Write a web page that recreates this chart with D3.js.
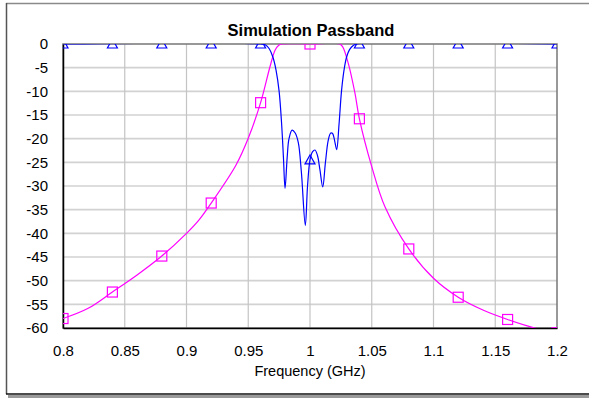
<!DOCTYPE html>
<html>
<head>
<meta charset="utf-8">
<script src="https://cdn.jsdelivr.net/npm/d3@7"></script>
<style>
  body { margin: 0; background: #fff; }
  text { font-family: Arial, "Liberation Sans", sans-serif; }
</style>
</head>
<body>
<div id="chart"></div>
<script>
// S21 (magenta) and S11 (blue) in dB vs frequency in GHz
var s21Freq = [0.8, 0.82, 0.84, 0.86, 0.88, 0.9, 0.91, 0.92, 0.94, 0.95, 0.96, 0.9676, 0.9717, 0.9745, 0.977,
               1.0, 1.024, 1.0265, 1.031, 1.0364, 1.04, 1.05, 1.0607, 1.08, 1.1, 1.12, 1.14, 1.16, 1.182, 1.2]
var s21dB   = [-58, -55.9, -52.4, -48.8, -44.8, -40, -37.2, -33.6, -25.6, -19.9, -12.4, -4.8, -1.3, -0.3, 0,
               0, 0, -0.6, -4.1, -10.4, -15.8, -25.9, -34.4, -43.3, -49.5, -53.5, -56.2, -58.2, -60, -61]

var s11Freq = [0.8, 0.96, 0.964, 0.967, 0.970, 0.9725, 0.975, 0.977, 0.9785, 0.9798, 0.9815, 0.983, 0.9855,
               0.988, 0.9905, 0.993, 0.9962, 0.998, 1.0, 1.002, 1.004, 1.006, 1.008, 1.0103, 1.0125, 1.0148,
               1.0168, 1.0183, 1.020, 1.0216, 1.0235, 1.0256, 1.028, 1.0297, 1.032, 1.035, 1.038, 1.2]
var s11dB   = [0, 0, -0.2, -1.0, -2.8, -5.5, -10, -16.8, -24, -30.5, -24, -20, -18.2,
               -18.8, -20.8, -27, -38.3, -30, -24.5, -22.8, -22.4, -23.5, -26.5, -30.2, -25, -20.3,
               -18.8, -18.9, -20.5, -22.3, -17, -9.7, -4.8, -2.7, -1.2, -0.3, 0, 0]

var markerFreq = [0.8, 0.84, 0.88, 0.92, 0.96, 1.0, 1.04, 1.08, 1.12, 1.16, 1.2]
var s21Marks = [-58, -52.4, -44.8, -33.6, -12.4, 0, -15.8, -43.3, -53.5, -58.2, -61]
var s11Marks = [0, 0, 0, 0, 0, -24.5, 0, 0, 0, 0, 0]

var xTicks = [0.8, 0.85, 0.9, 0.95, 1.0, 1.05, 1.1, 1.15, 1.2]
var xTickLabels = ["0.8", "0.85", "0.9", "0.95", "1", "1.05", "1.1", "1.15", "1.2"]
var yTicks = [0, -5, -10, -15, -20, -25, -30, -35, -40, -45, -50, -55, -60]

var W = 589, H = 398
var plot = {left: 63, right: 557, top: 44, bottom: 328}

var svg = d3.select("#chart").append("svg")
    .attr("width", W).attr("height", H)

// outer frame
svg.append("line").attr("x1", 6).attr("x2", W).attr("y1", 3.5).attr("y2", 3.5)
    .attr("stroke", "#8a8a8a").attr("stroke-width", 1.5)
svg.append("line").attr("x1", 6.5).attr("x2", 6.5).attr("y1", 3).attr("y2", 394)
    .attr("stroke", "#555").attr("stroke-width", 1.5)
svg.append("rect").attr("x", 8).attr("y", 395).attr("width", W - 8).attr("height", 3)
    .attr("fill", "#9a9a9a")
svg.append("line").attr("x1", 6).attr("x2", W).attr("y1", 394).attr("y2", 394)
    .attr("stroke", "#111").attr("stroke-width", 1.5)

var x = d3.scaleLinear().domain([0.8, 1.2]).range([plot.left, plot.right])
var y = d3.scaleLinear().domain([-60, 0]).range([plot.bottom, plot.top])

// grid
var grid = svg.append("g")
grid.selectAll(".gy").data(yTicks.slice(1, -1)).enter().append("line")
    .attr("x1", plot.left).attr("x2", plot.right)
    .attr("y1", d => y(d)).attr("y2", d => y(d))
    .attr("stroke", "#d2d2d2").attr("stroke-width", 1.6)
grid.selectAll(".gx").data(xTicks.slice(1, -1)).enter().append("line")
    .attr("y1", plot.top).attr("y2", plot.bottom)
    .attr("x1", d => x(d)).attr("x2", d => x(d))
    .attr("stroke", "#c4c4c4").attr("stroke-width", 1.2)

// plot frame
svg.append("rect").attr("x", plot.left).attr("y", plot.top)
    .attr("width", plot.right - plot.left).attr("height", plot.bottom - plot.top)
    .attr("fill", "none").attr("stroke", "#777").attr("stroke-width", 1.5)

// axes
var xAxis = svg.append("g").attr("transform", "translate(0," + plot.bottom + ")")
    .call(d3.axisBottom(x).tickValues(xTicks).tickSize(0).tickPadding(17)
        .tickFormat((d, i) => xTickLabels[i]))
var yAxis = svg.append("g").attr("transform", "translate(" + plot.left + ",0)")
    .call(d3.axisLeft(y).tickValues(yTicks).tickSize(0).tickPadding(15)
        .tickFormat(d => String(d)))
xAxis.select(".domain").attr("stroke", "#000").attr("stroke-width", 1.5)
yAxis.select(".domain").attr("stroke", "#000").attr("stroke-width", 1.5)
svg.selectAll(".tick text").attr("font-size", 15).attr("fill", "#000")
    .style("font-family", "Arial, 'Liberation Sans', sans-serif")

// clip for curves and markers
svg.append("clipPath").attr("id", "clip").append("rect")
    .attr("x", plot.left).attr("y", plot.top)
    .attr("width", plot.right - plot.left).attr("height", plot.bottom - plot.top)

var g = svg.append("g").attr("clip-path", "url(#clip)")

var line = d3.line().x(d => x(d[0])).y(d => y(d[1])).curve(d3.curveCatmullRom.alpha(0.5))

g.append("path").datum(d3.zip(s21Freq, s21dB)).attr("d", line)
    .attr("fill", "none").attr("stroke", "#ff00ff").attr("stroke-width", 1.2)
g.append("path").datum(d3.zip(s11Freq, s11dB)).attr("d", line)
    .attr("fill", "none").attr("stroke", "#0000ff").attr("stroke-width", 1.2)

// markers
g.selectAll(".sq").data(d3.zip(markerFreq, s21Marks)).enter().append("rect")
    .attr("x", d => x(d[0]) - 5).attr("y", d => y(d[1]) - 5)
    .attr("width", 10).attr("height", 10)
    .attr("fill", "none").attr("stroke", "#ff00ff").attr("stroke-width", 1.2)
g.selectAll(".tri").data(d3.zip(markerFreq, s11Marks)).enter().append("path")
    .attr("d", d => {
        var cx = x(d[0]), cy = y(d[1])
        return "M" + cx + "," + (cy - 5) + "L" + (cx + 5) + "," + (cy + 4) + "L" + (cx - 5) + "," + (cy + 4) + "Z"
    })
    .attr("fill", "none").attr("stroke", "#0000ff").attr("stroke-width", 1.2)

// titles
svg.append("text").attr("x", 311).attr("y", 36).attr("text-anchor", "middle")
    .attr("font-size", 16.5).attr("font-weight", "bold").text("Simulation Passband")
svg.append("text").attr("x", 310).attr("y", 376).attr("text-anchor", "middle")
    .attr("font-size", 14.5).text("Frequency (GHz)")
</script>
</body>
</html>
